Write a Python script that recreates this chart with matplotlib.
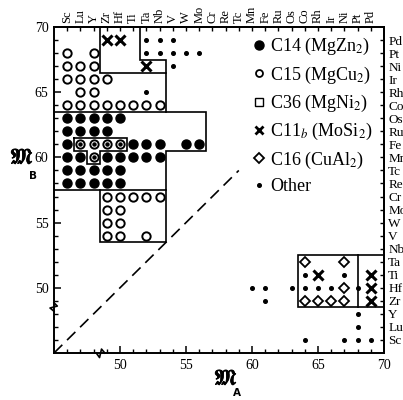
import matplotlib
matplotlib.use('Agg')
import matplotlib.pyplot as plt
from matplotlib.lines import Line2D
import matplotlib.patheffects as pe

plt.rcParams['font.family'] = ['Liberation Serif', 'DejaVu Serif']
plt.rcParams['mathtext.fontset'] = 'stix'

# ---------------- data ----------------
elements = ['Sc', 'Lu', 'Y', 'Zr', 'Hf', 'Ti', 'Ta', 'Nb', 'V', 'W', 'Mo', 'Cr',
            'Re', 'Tc', 'Mn', 'Fe', 'Ru', 'Os', 'Co', 'Rh', 'Ir', 'Ni', 'Pt', 'Pd']
element_numbers = [46, 47, 48, 49, 50, 51, 52, 53, 54, 55, 56, 57,
                   58, 59, 60, 61, 62, 63, 64, 65, 66, 67, 68, 69]
major_ticks = [50, 55, 60, 65, 70]

c14_a = [46, 47, 48, 49, 50, 46, 47, 48, 49, 46, 51, 52, 53, 55, 56,
         46, 47, 49, 50, 51, 52, 53, 46, 47, 48, 49, 50, 46, 47, 48, 49, 50]
c14_b = [63, 63, 63, 63, 63, 62, 62, 62, 62, 61, 61, 61, 61, 61, 61,
         60, 60, 60, 60, 60, 60, 60, 59, 59, 59, 59, 59, 58, 58, 58, 58, 58]

c15_a = [46, 48, 46, 47, 48, 46, 47, 48, 49, 47, 48,
         46, 47, 48, 49, 50, 51, 52, 53,
         49, 50, 51, 52, 53, 49, 50, 49, 50, 49, 50, 52]
c15_b = [68, 68, 67, 67, 67, 66, 66, 66, 66, 65, 65,
         64, 64, 64, 64, 64, 64, 64, 64,
         57, 57, 57, 57, 57, 56, 56, 55, 55, 54, 54, 54]

c36_a = [47, 48, 49, 50, 48]
c36_b = [61, 61, 61, 61, 60]

c11b_a = [49, 50, 52, 65, 69, 69, 69]
c11b_b = [69, 69, 67, 51, 51, 50, 49]

c16_a = [64, 67, 67, 64, 65, 66, 67]
c16_b = [52, 52, 50, 49, 49, 49, 49]

other_a = [52, 53, 54, 52, 53, 54, 55, 56, 54, 52, 64, 67,
           60, 61, 63, 64, 65, 66, 68, 61, 68, 68, 64, 67, 68, 69]
other_b = [69, 69, 69, 68, 68, 68, 68, 68, 67, 65, 51, 51,
           50, 50, 50, 50, 50, 50, 50, 49, 48, 47, 46, 46, 46, 46]

legend_labels = [r'C14 (MgZn$_2$)', r'C15 (MgCu$_2$)', r'C36 (MgNi$_2$)',
                 r'C11$_b$ (MoSi$_2$)', r'C16 (CuAl$_2$)', 'Other']

# region outlines (data coordinates)
c15_upper_x = [48.5, 48.5, 53.5, 53.5]
c15_upper_y = [70, 66.5, 66.5, 63.5]
other_box_x = [51.5, 51.5, 53.5, 53.5]
other_box_y = [70, 67.5, 67.5, 66.5]
c14_box_x = [45, 56.5, 56.5, 53.5, 53.5, 45]
c14_box_y = [63.5, 63.5, 60.5, 60.5, 57.5, 57.5]
c36_box_x = [46.5, 50.5, 50.5, 48.5, 48.5, 47.5, 47.5, 46.5, 46.5]
c36_box_y = [61.5, 61.5, 60.5, 60.5, 59.5, 59.5, 60.5, 60.5, 61.5]
c15_lower_x = [48.5, 48.5, 53.5, 53.5]
c15_lower_y = [57.5, 53.5, 53.5, 57.5]
right_box_x = [70, 63.5, 63.5, 70]
right_box_y = [52.5, 52.5, 48.5, 48.5]
right_split_x = [68, 68]
right_split_y = [48.5, 52.5]
diag_x = [45, 59]
diag_y = [45, 59]

# ---------------- figure ----------------
fig = plt.figure(figsize=(4.03, 4.00), dpi=100)
ax = fig.add_axes([54/403, 1-353/400, 330/403, 326/400])
ax.set_xlim(45, 70)
ax.set_ylim(45, 70)

lw_box = 1.2
for xs, ys in [(c15_upper_x, c15_upper_y), (other_box_x, other_box_y),
               (c14_box_x, c14_box_y), (c36_box_x, c36_box_y),
               (c15_lower_x, c15_lower_y), (right_box_x, right_box_y),
               (right_split_x, right_split_y)]:
    ax.plot(xs, ys, color='black', lw=lw_box, solid_joinstyle='miter')
ax.plot(diag_x, diag_y, color='black', lw=1.2, dashes=(7, 4))

ax.plot(c14_a, c14_b, 'o', color='black', ms=6.5, ls='none')
ax.plot(c15_a, c15_b, 'o', mfc='white', mec='black', mew=1.4, ms=6, ls='none')
ax.plot(c36_a, c36_b, 'o', mfc='white', mec='black', mew=1.4, ms=6, ls='none')
ax.plot(c36_a, c36_b, 'o', color='black', ms=2.2, ls='none')
ax.plot(c11b_a, c11b_b, 'x', color='black', mew=2.2, ms=6.5, ls='none')
ax.plot(c16_a, c16_b, 'D', mfc='white', mec='black', mew=1.3, ms=5.5, ls='none')
ax.plot(other_a, other_b, 'o', color='black', ms=2.6, ls='none')

# axes styling
for sp in ax.spines.values():
    sp.set_linewidth(1.4)
ax.set_xticks(major_ticks)
ax.set_yticks(major_ticks)
ax.set_xticks(element_numbers, minor=True)
ax.set_yticks(element_numbers, minor=True)
ax.tick_params(which='major', direction='in', length=5, width=1.1, labelsize=10, pad=4)
ax.tick_params(which='minor', direction='in', length=3, width=1.0)

secx = ax.secondary_xaxis('top')
secx.set_xticks(element_numbers, elements, rotation=90)
secx.tick_params(direction='in', length=3, width=1.0, labelsize=9, pad=3)
secy = ax.secondary_yaxis('right')
secy.set_yticks(element_numbers, elements)
secy.tick_params(direction='in', length=3, width=1.0, labelsize=9.5, pad=3)
for sp in list(secx.spines.values()) + list(secy.spines.values()):
    sp.set_linewidth(1.4)

# axis break marks
ax.plot([45, 44.7, 45.25, 45], [48.2, 48.45, 48.6, 48.85], color='black', lw=1.2, clip_on=False)
ax.plot([48.2, 48.45, 48.6, 48.85], [45, 44.65, 45.3, 45], color='black', lw=1.2, clip_on=False)

# axis labels
thick = [pe.withStroke(linewidth=0.7, foreground='black')]
fig.text(22/403, 1-159/400, r'$\mathfrak{M}$', fontsize=15, ha='center', va='center', path_effects=thick)
fig.text(33/403, 1-176/400, 'B', fontsize=7.5, ha='center', va='center',
         family='DejaVu Sans', weight='bold')
fig.text(226/403, 1-380/400, r'$\mathfrak{M}$', fontsize=15, ha='center', va='center', path_effects=thick)
fig.text(237/403, 1-393/400, 'A', fontsize=7.5, ha='center', va='center',
         family='DejaVu Sans', weight='bold')

# legend
handles = [
    Line2D([], [], marker='o', color='black', ms=6.5, ls='none'),
    Line2D([], [], marker='o', mfc='white', mec='black', mew=1.3, ms=5, ls='none'),
    Line2D([], [], marker='s', mfc='white', mec='black', mew=1.0, ms=5.5, ls='none'),
    Line2D([], [], marker='x', color='black', mew=2.0, ms=5.5, ls='none'),
    Line2D([], [], marker='D', mfc='white', mec='black', mew=1.3, ms=5, ls='none'),
    Line2D([], [], marker='o', color='black', ms=2.6, ls='none'),
]
ax.legend(handles, legend_labels, loc='upper left', bbox_to_anchor=(0.565, 1.005),
          frameon=False, fontsize=13, handlelength=0.8, handletextpad=0.25,
          labelspacing=0.4, borderaxespad=0.2)

fig.savefig('out.png', dpi=100)
